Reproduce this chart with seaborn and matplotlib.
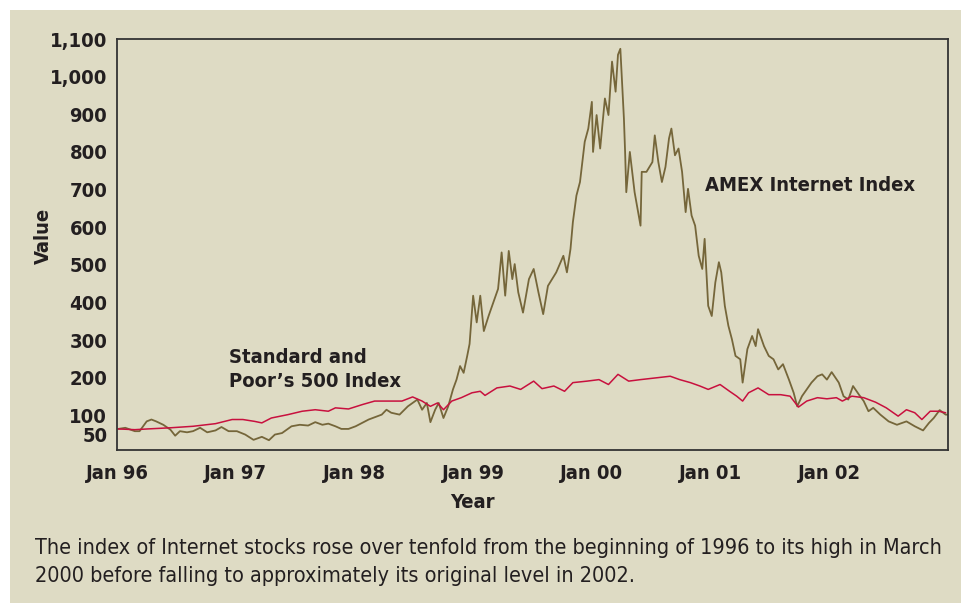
import numpy as np
import pandas as pd
import seaborn as sns
import matplotlib.pyplot as plt
from matplotlib.patches import Rectangle

# AMEX Internet Index (decimal year, value)
amex_year = [
    1996.01, 1996.07, 1996.15, 1996.19, 1996.25, 1996.29, 1996.33, 1996.39, 1996.45, 1996.49,
    1996.53, 1996.59, 1996.64, 1996.70, 1996.76, 1996.83, 1996.88, 1996.94, 1997.01, 1997.08,
    1997.15, 1997.22, 1997.28, 1997.33, 1997.39, 1997.47, 1997.54, 1997.61, 1997.67, 1997.73,
    1997.78, 1997.84, 1997.89, 1997.95, 1998.01, 1998.12, 1998.23, 1998.27, 1998.31, 1998.38,
    1998.45, 1998.53, 1998.57, 1998.61, 1998.64, 1998.68, 1998.71, 1998.75, 1998.79, 1998.83,
    1998.86, 1998.89, 1998.92, 1998.95, 1998.97, 1999.00, 1999.03, 1999.06, 1999.09, 1999.13,
    1999.17, 1999.21, 1999.24, 1999.27, 1999.30, 1999.33, 1999.35, 1999.38, 1999.42, 1999.47,
    1999.51, 1999.55, 1999.59, 1999.63, 1999.70, 1999.76, 1999.79, 1999.82, 1999.84, 1999.87,
    1999.90, 1999.92, 1999.94, 1999.97, 2000.00, 2000.01, 2000.04, 2000.07, 2000.11, 2000.14,
    2000.17, 2000.20, 2000.22, 2000.24, 2000.27, 2000.28, 2000.29, 2000.32, 2000.36, 2000.41,
    2000.42, 2000.46, 2000.51, 2000.53, 2000.56, 2000.59, 2000.62, 2000.65, 2000.67, 2000.70,
    2000.73, 2000.76, 2000.79, 2000.81, 2000.84, 2000.87, 2000.90, 2000.93, 2000.95, 2000.98,
    2001.01, 2001.04, 2001.07, 2001.09, 2001.12, 2001.15, 2001.18, 2001.21, 2001.25, 2001.27,
    2001.31, 2001.35, 2001.38, 2001.40, 2001.45, 2001.49, 2001.53, 2001.57, 2001.61, 2001.66,
    2001.70, 2001.73, 2001.77, 2001.81, 2001.85, 2001.90, 2001.94, 2001.98, 2002.02, 2002.08,
    2002.12, 2002.16, 2002.20, 2002.25, 2002.29, 2002.33, 2002.37, 2002.43, 2002.50, 2002.57,
    2002.65, 2002.72, 2002.79, 2002.84, 2002.88, 2002.93, 2002.98, 2002.999,
]
amex_value = [
    64, 67, 58, 58, 84, 89, 84, 75, 62, 46,
    58, 55, 58, 67, 55, 60, 69, 58, 58, 49,
    35, 43, 34, 49, 53, 71, 75, 73, 82, 75,
    78, 71, 64, 64, 71, 89, 102, 115, 107, 102,
    124, 142, 115, 133, 82, 115, 133, 93, 124, 169,
    195, 231, 213, 258, 290, 418, 347, 418, 324, 364,
    400, 436, 533, 418, 537, 462, 502, 427, 373, 462,
    489, 427, 369, 444, 480, 524, 480, 542, 613, 684,
    720, 773, 827, 862, 933, 800, 898, 809, 942, 898,
    1040, 960, 1058, 1074, 889, 800, 693, 800, 693, 604,
    747, 747, 773, 844, 773, 720, 760, 836, 862, 791,
    809, 747, 640, 702, 631, 604, 524, 489, 569, 391,
    364, 453, 507, 480, 391, 338, 302, 258, 249, 187,
    276, 311, 284, 329, 284, 258, 249, 222, 236, 195,
    160, 124, 151, 169, 187, 204, 209, 195, 215, 187,
    151, 142, 178, 155, 138, 111, 120, 102, 84, 75,
    84, 71, 60, 80, 93, 114, 102, 102,
]

# Standard and Poor's 500 Index, same scale
sp_year = [
    1996.01, 1996.15, 1996.26, 1996.45, 1996.64, 1996.83, 1996.97, 1997.06, 1997.16, 1997.22,
    1997.30, 1997.44, 1997.56, 1997.67, 1997.78, 1997.84, 1997.95, 1998.07, 1998.17, 1998.28,
    1998.40, 1998.49, 1998.57, 1998.64, 1998.70, 1998.75, 1998.82, 1998.90, 1998.99, 1999.06,
    1999.10, 1999.20, 1999.31, 1999.40, 1999.51, 1999.58, 1999.68, 1999.77, 1999.84, 1999.96,
    2000.06, 2000.14, 2000.22, 2000.31, 2000.41, 2000.55, 2000.66, 2000.74, 2000.83, 2000.91,
    2000.98, 2001.08, 2001.16, 2001.22, 2001.27, 2001.32, 2001.40, 2001.49, 2001.59, 2001.67,
    2001.74, 2001.81, 2001.90, 2001.98, 2002.06, 2002.11, 2002.19, 2002.29, 2002.39, 2002.48,
    2002.58, 2002.65, 2002.72, 2002.78, 2002.85, 2002.92, 2002.98,
]
sp_value = [
    64, 62, 64, 67, 71, 78, 89, 89, 84, 80,
    93, 102, 111, 115, 111, 120, 117, 129, 138, 138,
    138, 149, 138, 124, 133, 115, 138, 147, 160, 164,
    153, 173, 178, 169, 191, 171, 178, 164, 187, 191,
    195, 182, 209, 191, 195, 200, 204, 195, 187, 178,
    169, 182, 164, 151, 138, 160, 173, 155, 155, 151,
    122, 138, 147, 144, 147, 138, 151, 147, 135, 120,
    98, 115, 107, 89, 111, 111, 107,
]

y_ticks = [50, 100, 200, 300, 400, 500, 600, 700, 800, 900, 1000, 1100]
x_ticks = [1996, 1997, 1998, 1999, 2000, 2001, 2002]
x_labels = ['Jan 96', 'Jan 97', 'Jan 98', 'Jan 99', 'Jan 00', 'Jan 01', 'Jan 02']

BG = '#dedbc4'
OLIVE = '#75663a'
RED = '#c8103e'
INK = '#231f20'

sns.set_theme(style='white')
plt.rcParams['font.family'] = ['DejaVu Sans']
plt.rcParams['font.stretch'] = 'condensed'

fig = plt.figure(figsize=(9.61, 6.03), dpi=100, facecolor='white')
fig.patches.append(Rectangle((10 / 961, 0), 1, 1 - 10 / 603, transform=fig.transFigure,
                             facecolor=BG, edgecolor='none', zorder=-1))
ax = fig.add_axes([117 / 961, 1 - 450 / 603, 831 / 961, 411 / 603])
ax.set_facecolor(BG)

sns.lineplot(x=amex_year, y=amex_value, ax=ax, color=OLIVE, lw=1.3)
sns.lineplot(x=sp_year, y=sp_value, ax=ax, color=RED, lw=1.1)

ax.set_xlim(1996, 2003)
ax.set_ylim(8, 1100)
ax.set_yticks(y_ticks)
ax.set_yticklabels([f'{v:,}' for v in y_ticks])
ax.set_xticks(x_ticks)
ax.set_xticklabels(x_labels)
ax.tick_params(length=0, labelsize=14.5, colors=INK)
ax.tick_params(axis='y', pad=7)
ax.tick_params(axis='x', pad=10)
for lab in ax.get_xticklabels() + ax.get_yticklabels():
    lab.set_fontweight('bold')
for s in ax.spines.values():
    s.set_color('#333333')
    s.set_linewidth(1.3)

ax.set_ylabel('Value', fontsize=14.5, fontweight='bold', color=INK)
ax.yaxis.set_label_coords(-0.077, 0.52)
ax.set_xlabel('Year', fontsize=14.5, fontweight='bold', color=INK)
ax.xaxis.set_label_coords(0.428, -0.105)

ax.text(2000.95, 710, 'AMEX Internet Index', fontsize=14.5, fontweight='bold',
        color=INK, va='center', ha='left')
ax.text(1996.94, 222, 'Standard and\nPoor\u2019s 500 Index', fontsize=14.5, fontweight='bold',
        color=INK, va='center', ha='left', linespacing=1.3)

fig.text(35 / 961, 1 - 562 / 603,
         'The index of Internet stocks rose over tenfold from the beginning of 1996 to its high in March\n'
         '2000 before falling to approximately its original level in 2002.',
         fontsize=15.5, color=INK, va='center', ha='left', linespacing=1.45)

fig.savefig('out.png', dpi=100, facecolor='white')
